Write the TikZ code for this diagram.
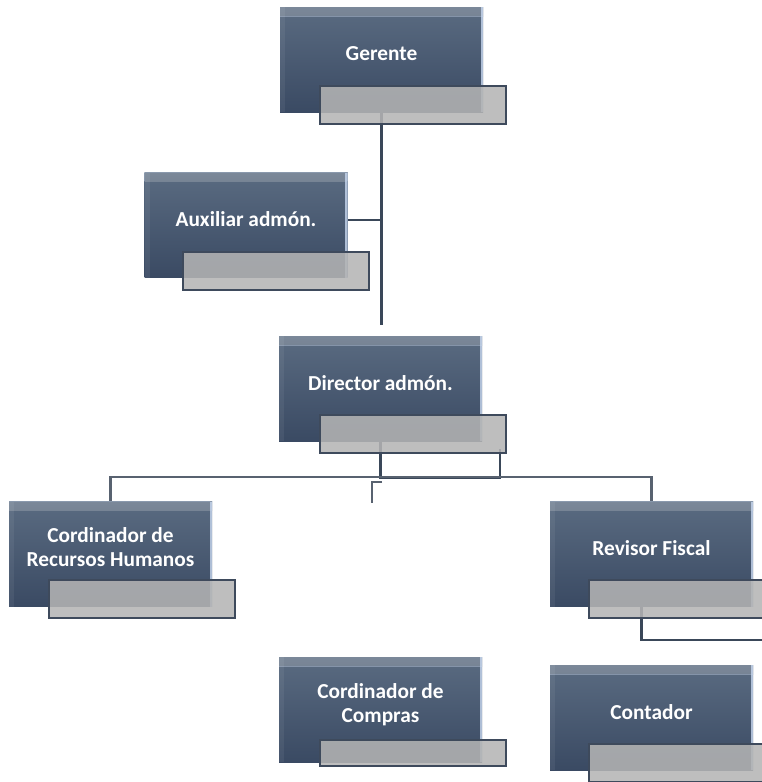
\documentclass[tikz,border=0pt]{standalone}
\usepackage{fontspec}
\newfontfamily\carlito{Carlito}
\usetikzlibrary{calc}
\definecolor{boxtop}{RGB}{90,107,129}
\definecolor{boxbot}{RGB}{58,74,99}
\definecolor{bevel}{RGB}{150,165,185}
\definecolor{edgehl}{RGB}{200,216,240}
\definecolor{barfill}{RGB}{180,180,180}
\definecolor{bardraw}{RGB}{62,74,92}
\definecolor{conncol}{RGB}{58,71,89}
\definecolor{conncolb}{RGB}{88,98,112}
\tikzset{
  orgbox/.style={minimum width=152.25pt, minimum height=78.75pt, inner sep=0pt,
    top color=boxtop, bottom color=boxbot, draw=none,
    path picture={
      \fill[top color=bevel, bottom color=boxtop, opacity=.8]
        (path picture bounding box.north west) rectangle ([yshift=-7pt]path picture bounding box.north east);
      \fill[edgehl, opacity=.8] ([xshift=-1.6pt]path picture bounding box.north east) rectangle (path picture bounding box.south east);
      \fill[white, opacity=.06] (path picture bounding box.north west) rectangle ([xshift=4pt]path picture bounding box.south west);
    }},
  orgbar/.style={minimum width=139.5pt, minimum height=28.5pt, inner sep=0pt, anchor=south west,
    fill=barfill, fill opacity=.87, draw=bardraw, line width=1.4pt},
  lbl/.style={text=white, align=center, inner sep=0pt,
    font=\carlito\bfseries\fontsize{16}{17.5}\selectfont},
  conn/.style={draw=conncol, line width=2.2pt},
  connb/.style={draw=conncolb, line width=1.8pt}
}
\begin{document}
\begin{tikzpicture}[x=0.75pt,y=-0.75pt]
\useasboundingbox (0,0) rectangle (762,782);
% coordinates for free ends
\coordinate (gend) at (381.5,325);
\coordinate (s1) at (382,482);
\coordinate (s2) at (372,503);
\coordinate (redge) at (763,640);
% boxes (placed first only as reference points)
\path (381.5,59.5) coordinate (gc) (246,225) coordinate (ac) (380.5,388.5) coordinate (dc)
      (110.5,554) coordinate (rhc) (651.5,554) coordinate (rvc) (380.5,709.5) coordinate (cc)
      (651.5,717.5) coordinate (ctc);
% connectors (behind boxes)
\draw[conn] ($(gc)+(0,52.5)$) -- (gend);
\draw[conn] ($(ac)+(101,-5)$) -- ($(gc|-ac)+(0,-5)$);
\draw[conn] ($(dc)+(0,52.5)$) -- ++(0,37) -| ($(dc)+(119.5,60)$);
\draw[connb] ($(rhc)+(0,-53)$) -- ++(0,-24) -| ($(rvc)+(0,-53)$);
\draw[connb] (s1) -| (s2);
\draw[conn] ($(rvc)+(-10,53)$) |- (redge);
% boxes
\node[orgbox] (g) at (gc) {};
\node[orgbar] (gbar) at ($(g.south west)+(39,13)$) {};
\node[lbl] (gt) at ($(g.north)+(0,47)$) {Gerente};

\node[orgbox] (a) at (ac) {};
\node[orgbar] (abar) at ($(a.south west)+(38,13)$) {};
\node[lbl] (at) at ($(a.north)+(0,47)$) {Auxiliar admón.};

\node[orgbox] (d) at (dc) {};
\node[orgbar] (dbar) at ($(d.south west)+(40,13)$) {};
\node[lbl] (dt) at ($(d.north)+(0,47)$) {Director admón.};

\node[orgbox] (rh) at (rhc) {};
\node[orgbar] (rhbar) at ($(rh.south west)+(39,12)$) {};
\node[lbl] (rht) at ($(rh.north)+(0,46)$) {Cordinador de\\Recursos Humanos};

\node[orgbox] (rv) at (rvc) {};
\node[orgbar] (rvbar) at ($(rv.south west)+(38,12)$) {};
\node[lbl] (rvt) at ($(rv.north)+(0,47)$) {Revisor Fiscal};

\node[orgbox] (c) at (cc) {};
\node[orgbar, minimum height=19.5pt] (cbar) at ($(c.south west)+(40,5)$) {};
\node[lbl] (ct) at ($(c.north)+(0,48)$) {Cordinador de\\Compras};

\node[orgbox] (ctr) at (ctc) {};
\node[orgbar] (ctrbar) at ($(ctr.south west)+(38,13)$) {};
\node[lbl] (ctrt) at ($(ctr.north)+(0,47)$) {Contador};
\end{tikzpicture}
\end{document}
